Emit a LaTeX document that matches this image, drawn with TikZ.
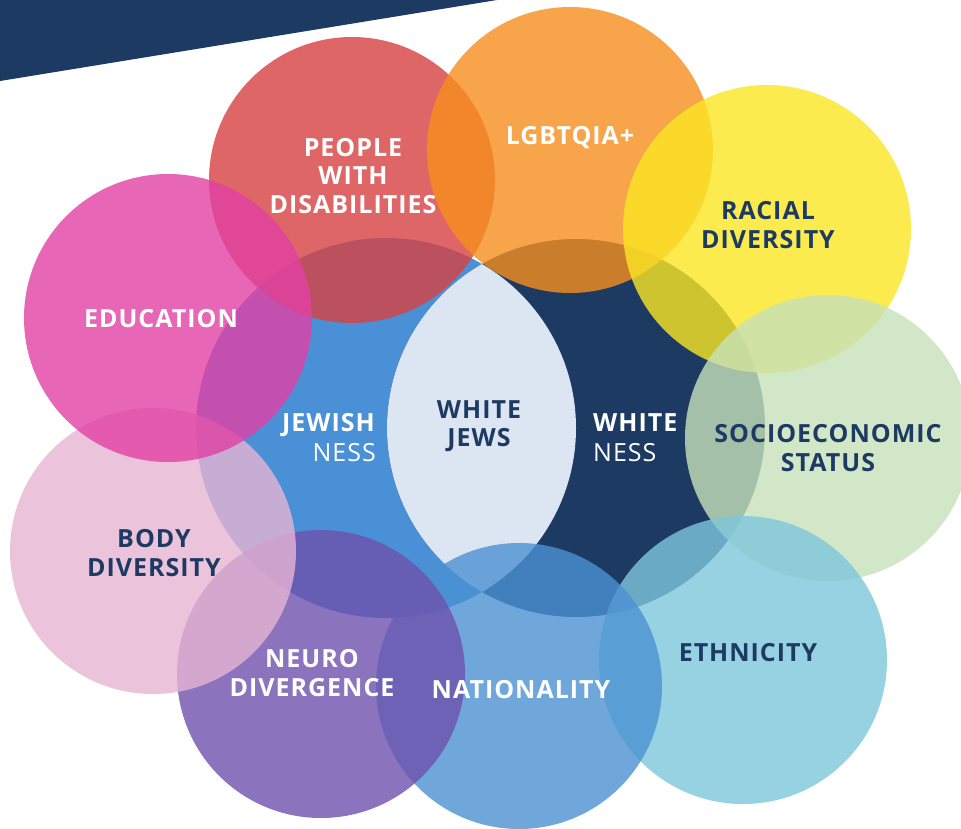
\documentclass[tikz,border=0pt]{standalone}
\usepackage{fontspec}
\setmainfont{Open Sans}[LetterSpace=4]

\definecolor{navy}{RGB}{29,58,99}
\definecolor{jewblue}{RGB}{74,144,214}
\definecolor{lens}{RGB}{220,230,242}
\definecolor{disred}{RGB}{216,64,64}
\definecolor{lgbtorange}{RGB}{246,142,29}
\definecolor{raceyellow}{RGB}{251,231,36}
\definecolor{sesgreen}{RGB}{199,226,186}
\definecolor{ethblue}{RGB}{126,199,221}
\definecolor{natblue}{RGB}{75,146,211}
\definecolor{neuropurple}{RGB}{110,81,173}
\definecolor{bodypink}{RGB}{231,180,211}
\definecolor{edumagenta}{RGB}{226,64,164}

\begin{document}
\begin{tikzpicture}[x=1pt, y=-1pt,
    bubble/.style={opacity=0.8},
    lab/.style={font=\bfseries\fontsize{25}{28.5}\selectfont, align=center, inner sep=0pt},
    darklab/.style={lab, text=navy},
    lightlab/.style={lab, text=white}]
    \clip (0,0) rectangle (961,828);
    \fill[white] (0,0) rectangle (961,828);

    % Banner
    \fill[navy] (0,0) -- (497,0) -- (0,81) -- cycle;

    % Two central circles and their overlap
    \fill[jewblue] (386,428) circle (190pt);
    \fill[navy] (576,428) circle (189pt);
    \begin{scope}
        \clip (386,428) circle (190pt);
        \fill[lens] (576,428) circle (189pt);
    \end{scope}

    % Outer circles, clockwise from top left
    \fill[bubble, disred] (352,180) circle (143pt);
    \fill[bubble, lgbtorange] (570,150) circle (143pt);
    \fill[bubble, raceyellow] (767,229) circle (144pt);
    \fill[bubble, sesgreen] (828,438) circle (143pt);
    \fill[bubble, ethblue] (743,660) circle (144pt);
    \fill[bubble, natblue] (519,686) circle (143pt);
    \fill[bubble, neuropurple] (321,674) circle (144pt);
    \fill[bubble, bodypink] (153,551) circle (143pt);
    \fill[bubble, edumagenta] (168,318) circle (144pt);

    % Labels
    \node[lightlab] (disab) at (353,176) {PEOPLE\\WITH\\DISABILITIES};
    \node[lightlab] (lgbt) at (570,138) {LGBTQIA+};
    \node[darklab] (race) at (768,225) {RACIAL\\DIVERSITY};
    \node[darklab] (ses) at (828,448) {SOCIOECONOMIC\\STATUS};
    \node[darklab] (ethn) at (748,653) {ETHNICITY};
    \node[lightlab] (nation) at (521,690) {NATIONALITY};
    \node[lightlab] (neuro) at (312,673) {NEURO\\DIVERGENCE};
    \node[darklab] (body) at (154,553) {BODY\\DIVERSITY};
    \node[lightlab] (edu) at (161,319) {EDUCATION};
    \node[darklab] (whitejews) at (479,426) {WHITE\\JEWS};
    \node[lightlab, align=right, anchor=east, font=\fontsize{25}{30}\selectfont] (jewish) at (376,438)
        {\textbf{JEWISH}\\NESS};
    \node[lightlab, align=left, anchor=west, font=\fontsize{25}{30}\selectfont] (white) at (593,438)
        {\textbf{WHITE}\\NESS};
\end{tikzpicture}
\end{document}
